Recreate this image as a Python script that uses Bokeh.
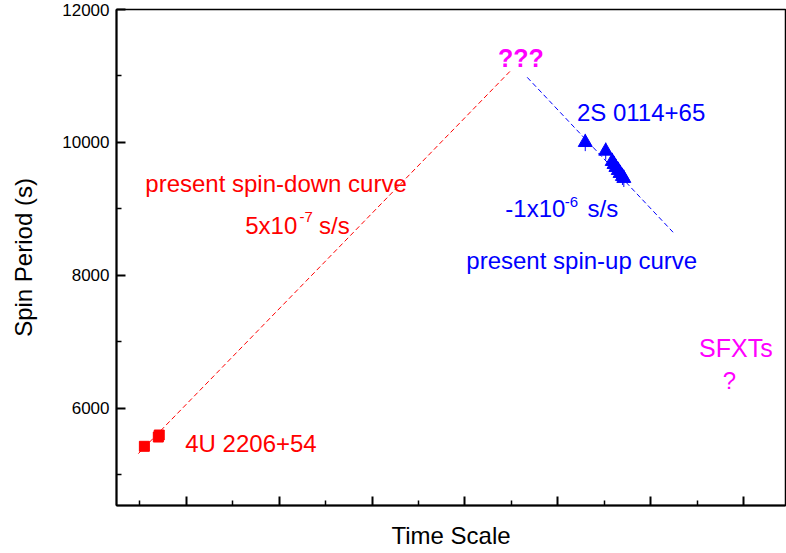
from bokeh.plotting import figure
from bokeh.models import Range1d, Label, FixedTicker
from bokeh.embed import file_html
from bokeh.resources import INLINE

# --- data -------------------------------------------------------------
# 4U 2206+54 spin-period measurements (time scale, period in s)
src_4u_x = [1.10, 1.40, 1.42]
src_4u_p = [5430, 5570, 5600]

# 2S 0114+65 spin-period measurements
src_2s_x = [10.59, 11.03, 11.17, 11.21, 11.25, 11.30, 11.34, 11.39, 11.42]
src_2s_p = [10000, 9870, 9715, 9670, 9625, 9580, 9535, 9490, 9460]
src_2s_err = [130, 130, 130, 130, 130, 130, 130, 130, 130]

# present spin-down (+5e-7 s/s) and spin-up (-1e-6 s/s) trend curves
down_x = [0.97, 8.97]
down_p = [5320, 11070]
up_x = [9.34, 12.48]
up_p = [10980, 8650]

# axis ticks (the time axis is unlabelled)
x_major = [2, 4, 6, 8, 10, 12, 14]
x_minor = [1, 3, 5, 7, 9, 11, 13]
y_major = [6000, 8000, 10000, 12000]
y_minor = [5000, 7000, 9000, 11000]

FONT = "Liberation Sans"
RED = "#ff0000"
BLUE = "#0000ff"
MAGENTA = "#ff00ff"

p = figure(width=786, height=553, output_backend="svg", toolbar_location=None,
           x_range=Range1d(0.5, 14.9), y_range=Range1d(4540, 12000),
           min_border_left=116, min_border_right=1, min_border_top=9,
           min_border_bottom=48)
p.background_fill_color = "white"
p.border_fill_color = "white"
p.grid.visible = False
p.outline_line_color = "black"
p.outline_line_width = 1.5

# axes styling
for ax in (p.xaxis[0], p.yaxis[0]):
    ax.axis_line_width = 2
    ax.axis_line_color = "black"
    ax.major_tick_line_width = 2
    ax.major_tick_line_color = "black"
    ax.minor_tick_line_width = 1.5
    ax.minor_tick_line_color = "black"
    ax.major_tick_in = 9
    ax.major_tick_out = 0
    ax.minor_tick_in = 5
    ax.minor_tick_out = 0
    ax.axis_label_text_font = FONT
    ax.axis_label_text_font_size = "24px"
    ax.axis_label_text_font_style = "normal"
    ax.axis_label_text_color = "black"
    ax.major_label_text_font = FONT
    ax.major_label_text_font_size = "17px"
    ax.major_label_text_color = "black"

p.xaxis.ticker = FixedTicker(ticks=x_major, minor_ticks=x_minor)
p.xaxis.major_label_overrides = {t: "" for t in x_major}
p.xaxis.major_label_standoff = 0
p.xaxis.axis_label = "Time Scale"
p.xaxis.axis_label_standoff = 16

p.yaxis.ticker = FixedTicker(ticks=y_major, minor_ticks=y_minor)
p.yaxis.major_label_standoff = 7
p.yaxis.axis_label = "Spin Period (s)"
p.yaxis.axis_label_standoff = 22

# trend curves
p.line(down_x, down_p, line_color=RED, line_width=1, line_dash="5 3")
p.line(up_x, up_p, line_color=BLUE, line_width=1, line_dash="5 3")

# measurements
p.scatter(src_4u_x, src_4u_p, marker="square", size=10, color=RED)
lo = [v - e for v, e in zip(src_2s_p, src_2s_err)]
hi = [v + e for v, e in zip(src_2s_p, src_2s_err)]
p.segment(src_2s_x, lo, src_2s_x, hi, line_color=BLUE, line_width=1)
p.scatter(src_2s_x, src_2s_p, marker="triangle", size=14, color=BLUE)


def add_text(x, y, txt, color, size="24px", style="normal"):
    p.add_layout(Label(x=x, y=y, text=txt, text_color=color,
                       text_font=FONT, text_font_size=size,
                       text_font_style=style, text_baseline="alphabetic",
                       text_align="left"))


add_text(1.98, 5473, "4U 2206+54", RED)
add_text(1.12, 9383, "present spin-down curve", RED)
add_text(3.27, 8751, "5x10", RED)
add_text(4.44, 8880, "-7", RED, size="15px")
add_text(4.86, 8751, "s/s", RED)

add_text(8.71, 11278, "???", MAGENTA, style="bold", size="25px")

add_text(10.41, 10451, "2S 0114+65", BLUE)
add_text(8.87, 9002, "-1x10", BLUE)
add_text(10.15, 9110, "-6", BLUE, size="15px")
add_text(10.64, 9002, "s/s", BLUE)
add_text(8.03, 8225, "present spin-up curve", BLUE)

add_text(13.04, 6916, "SFXTs", MAGENTA, size="25px")
add_text(13.55, 6420, "?", MAGENTA)

open("out.html", "w").write(file_html(p, INLINE))
